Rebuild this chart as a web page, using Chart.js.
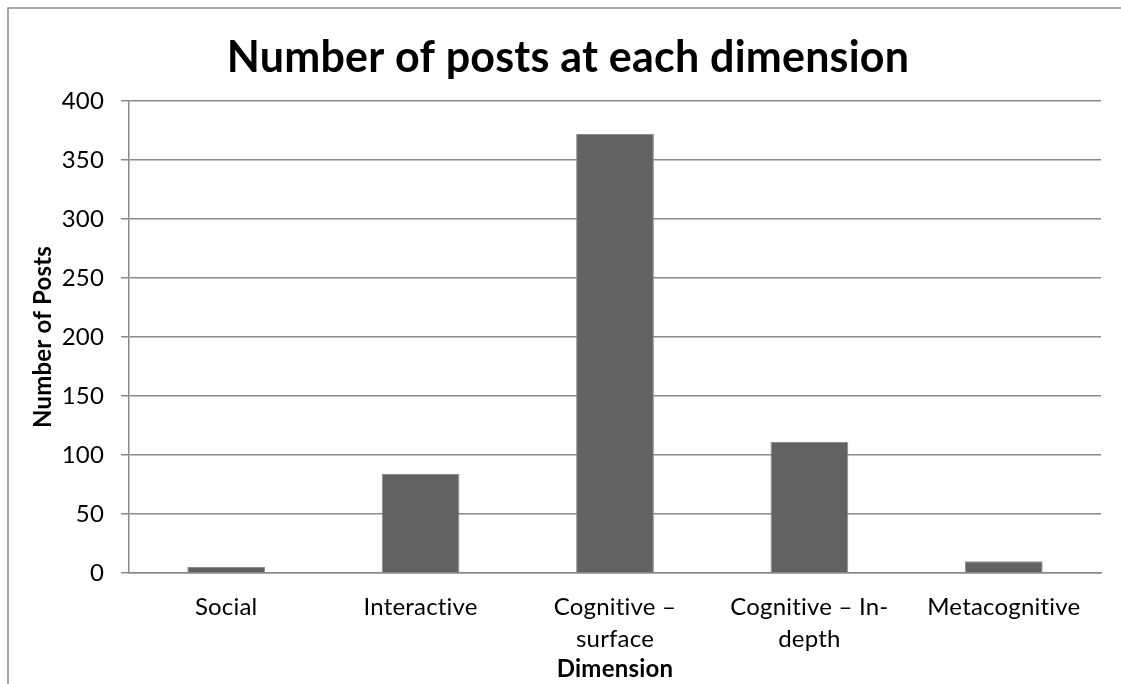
<!DOCTYPE html>
<html>
<head>
<meta charset="utf-8">
<script src="https://cdn.jsdelivr.net/npm/chart.js@4"></script>
<style>
  html, body { margin: 0; padding: 0; background: #fff; }
  canvas { display: block; }
</style>
</head>
<body>
<canvas id="postsChart" width="1121" height="684"></canvas>
<script>
// data
const categories = ['Social', 'Interactive', ['Cognitive –', 'surface'], ['Cognitive – In-', 'depth'], 'Metacognitive'];
const postCounts = [5, 84, 372, 111, 10];
const yMin = 0;
const yMax = 400;
const yStep = 50;

const chartTitle = 'Number of posts at each dimension';
const xTitle = 'Dimension';
const yTitle = 'Number of Posts';

const FONT = 'Lato, Carlito, "Open Sans", sans-serif';
const GRID_GREY = '#8a8a8a';

// outer frame of the chart (only top and left are visible in the picture)
// also switch off Lato's "ti" ligature with a tiny letter spacing
const framePlugin = {
    id: 'frame',
    beforeDraw(chart) {
        const ctx = chart.ctx;
        ctx.letterSpacing = '0.2px';
        ctx.save();
        ctx.strokeStyle = GRID_GREY;
        ctx.lineWidth = 1.5;
        ctx.beginPath();
        ctx.moveTo(8, chart.height);
        ctx.lineTo(8, 8);
        ctx.lineTo(chart.width, 8);
        ctx.stroke();
        ctx.restore();
    }
};

const ctx = document.getElementById('postsChart').getContext('2d');
new Chart(ctx, {
    type: 'bar',
    data: {
        labels: categories,
        datasets: [{
            label: yTitle,
            data: postCounts,
            backgroundColor: '#626262',
            borderColor: '#8c8c8c',
            borderWidth: 1,
            barPercentage: 0.4,
            categoryPercentage: 1.0
        }]
    },
    options: {
        responsive: false,
        animation: false,
        devicePixelRatio: 1,
        layout: {
            padding: { left: 15, right: 0, top: 0, bottom: 0 }
        },
        plugins: {
            legend: { display: false },
            tooltip: { enabled: false },
            title: {
                display: true,
                text: chartTitle,
                color: '#000',
                font: { family: FONT, size: 43, weight: 'bold', lineHeight: 1.2 },
                padding: { top: 32.6, bottom: 16.8 }
            }
        },
        scales: {
            x: {
                grid: { display: false, drawTicks: false, tickLength: 0 },
                border: { display: true, color: GRID_GREY, width: 1.5 },
                ticks: {
                    color: '#000',
                    padding: 18.5,
                    maxRotation: 0,
                    autoSkip: false,
                    font: { family: FONT, size: 24, lineHeight: 1.33 }
                },
                title: {
                    display: true,
                    text: xTitle,
                    color: '#000',
                    font: { family: FONT, size: 24, weight: 'bold', lineHeight: 1.2 },
                    padding: { top: 0, bottom: 0 }
                },
                afterFit(scale) { scale.height = 111; }
            },
            y: {
                min: yMin,
                max: yMax,
                grid: {
                    color: GRID_GREY,
                    lineWidth: 1.5,
                    drawTicks: true,
                    tickLength: 8
                },
                border: { display: true, color: GRID_GREY, width: 1.5 },
                ticks: {
                    stepSize: yStep,
                    color: '#000',
                    padding: 17,
                    font: { family: FONT, size: 24 }
                },
                title: {
                    display: true,
                    text: yTitle,
                    color: '#000',
                    font: { family: FONT, size: 24, weight: 'bold', lineHeight: 1.2 },
                    padding: { top: 13.6, bottom: 0 }
                },
                afterFit(scale) { scale.width = 114; }
            },
            // empty axis on the right only keeps the plot 20px off the edge
            yRight: {
                type: 'linear',
                position: 'right',
                display: true,
                grid: { display: false, drawTicks: false },
                border: { display: false },
                ticks: { display: false },
                afterFit(scale) { scale.width = 20; }
            }
        }
    },
    plugins: [framePlugin]
});
</script>
</body>
</html>
